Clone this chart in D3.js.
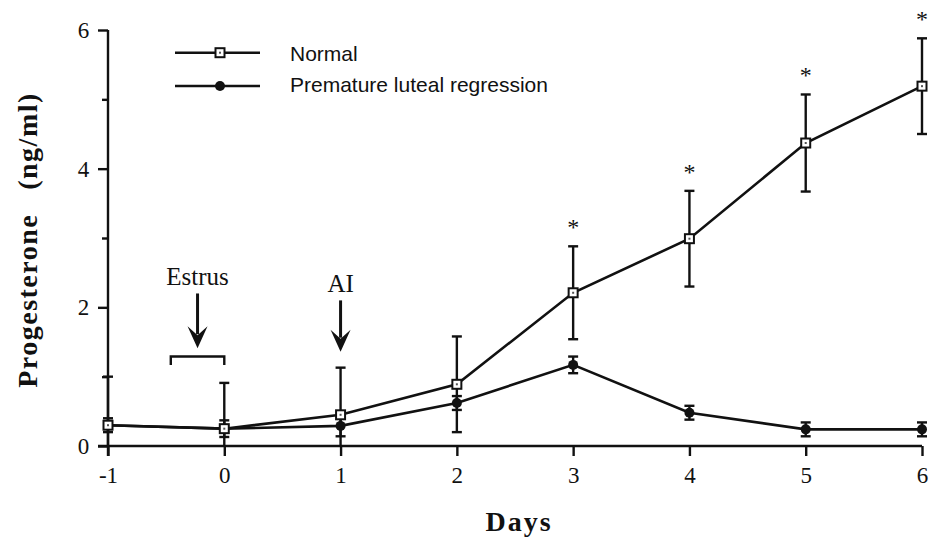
<!DOCTYPE html>
<html>
<head>
<meta charset="utf-8">
<script src="https://cdn.jsdelivr.net/npm/d3@7/dist/d3.min.js"></script>
<style>
  html, body { margin: 0; padding: 0; background: #ffffff; }
  svg { display: block; }
</style>
</head>
<body>
<svg id="chart" width="931" height="546"></svg>
<script>
// Plasma progesterone around estrus and insemination
const days = [-1, 0, 1, 2, 3, 4, 5, 6];
const normalMean = [0.30, 0.25, 0.45, 0.89, 2.21, 2.99, 4.37, 5.19];
const normalSem = [0.10, 0.66, 0.68, 0.69, 0.67, 0.69, 0.70, 0.69];
const prematureMean = [0.30, 0.25, 0.29, 0.62, 1.17, 0.48, 0.24, 0.24];
const prematureSem = [0.70, 0.12, 0.15, 0.10, 0.12, 0.10, 0.10, 0.10];
const significantDays = [3, 4, 5, 6];
const yMajorTicks = [0, 2, 4, 6];
const yMinorTicks = [1, 3, 5];
const xTicks = [-1, 0, 1, 2, 3, 4, 5, 6];
const seriesNames = ["Normal", "Premature luteal regression"];

const svg = d3.select("#chart");
const serif = "'Liberation Serif', 'Times New Roman', serif";
const sans = "'Liberation Sans', Arial, sans-serif";
const ink = "#111";

const x = d3.scaleLinear().domain([-1, 6]).range([108, 922]);
const y = d3.scaleLinear().domain([0, 6]).range([446, 30]);

// axes
const xAxis = svg.append("g")
  .attr("transform", `translate(0,${y(0)})`)
  .call(d3.axisBottom(x).tickValues(xTicks).tickSize(10).tickSizeOuter(0).tickFormat(d => String(d)));
xAxis.select(".domain").attr("d", `M${x(-1) - 10},0H${x(6)}`);

const yAxis = svg.append("g")
  .attr("transform", `translate(${x(-1)},0)`)
  .call(d3.axisLeft(y).tickValues(yMajorTicks).tickSize(10).tickSizeOuter(0).tickFormat(d => String(d)));
yAxis.select(".domain").attr("d", `M0,${y(6)}V${y(0) + 10}`);

const yMinor = svg.append("g")
  .attr("transform", `translate(${x(-1)},0)`)
  .call(d3.axisLeft(y).tickValues(yMinorTicks).tickSize(6).tickFormat(""));
yMinor.select(".domain").remove();

[xAxis, yAxis, yMinor].forEach(g => {
  g.selectAll(".domain, .tick line").attr("stroke", ink).attr("stroke-width", 2.4);
  g.selectAll(".tick text").attr("fill", ink).attr("font-family", serif).attr("font-size", 23);
});
xAxis.selectAll(".tick text").attr("dy", "1.05em");
yAxis.selectAll(".tick text").attr("dx", "-0.25em");

// axis titles
svg.append("text")
  .attr("x", 519).attr("y", 531)
  .attr("text-anchor", "middle")
  .attr("font-family", serif).attr("font-weight", "bold").attr("font-size", 28)
  .attr("letter-spacing", 2)
  .attr("fill", ink)
  .text("Days");

const yTitle = svg.append("text")
  .attr("transform", "translate(37,240) rotate(-90)")
  .attr("text-anchor", "middle")
  .attr("font-family", serif).attr("font-weight", "bold").attr("font-size", 28)
  .attr("letter-spacing", 1.5)
  .attr("fill", ink);
yTitle.append("tspan").text("Progesterone");
yTitle.append("tspan").attr("dx", 24).text("(ng/ml)");

// series
const normal = days.map((d, i) => ({ day: d, mean: normalMean[i], sem: normalSem[i] }));
const premature = days.map((d, i) => ({ day: d, mean: prematureMean[i], sem: prematureSem[i] }));

const line = d3.line().x(d => x(d.day)).y(d => y(d.mean));

function drawErrorBars(data) {
  const g = svg.append("g").attr("stroke", ink).attr("stroke-width", 2.4).attr("fill", "none");
  data.forEach(d => {
    const hi = d.mean + d.sem;
    const lo = Math.max(0, d.mean - d.sem);
    const cx = x(d.day);
    g.append("line").attr("x1", cx).attr("x2", cx).attr("y1", y(hi)).attr("y2", y(lo));
    g.append("line").attr("x1", cx - 5).attr("x2", cx + 5).attr("y1", y(hi)).attr("y2", y(hi));
    if (d.mean - d.sem > 0) {
      g.append("line").attr("x1", cx - 5).attr("x2", cx + 5).attr("y1", y(lo)).attr("y2", y(lo));
    }
  });
}

drawErrorBars(premature);
drawErrorBars(normal);

svg.append("path").datum(premature)
  .attr("d", line).attr("fill", "none").attr("stroke", ink).attr("stroke-width", 2.6);
svg.append("path").datum(normal)
  .attr("d", line).attr("fill", "none").attr("stroke", ink).attr("stroke-width", 2.6);

function circleMarker(g, cx, cy) {
  g.append("circle").attr("cx", cx).attr("cy", cy).attr("r", 5).attr("fill", ink);
}
function squareMarker(g, cx, cy) {
  g.append("rect").attr("x", cx - 4.5).attr("y", cy - 4.5).attr("width", 9).attr("height", 9)
    .attr("fill", "#fff").attr("stroke", ink).attr("stroke-width", 2);
  g.append("rect").attr("x", cx - 1).attr("y", cy - 1).attr("width", 2).attr("height", 2).attr("fill", "#555");
}

const markers = svg.append("g");
premature.forEach(d => circleMarker(markers, x(d.day), y(d.mean)));
normal.forEach(d => squareMarker(markers, x(d.day), y(d.mean)));

// significance marks
svg.append("g").selectAll("text")
  .data(normal.filter(d => significantDays.includes(d.day)))
  .join("text")
  .attr("x", d => x(d.day))
  .attr("y", d => y(d.mean + d.sem) - 11)
  .attr("text-anchor", "middle")
  .attr("font-family", serif).attr("font-size", 24).attr("fill", ink)
  .text("*");

// event annotations
function arrow(day, yTop, yTip) {
  const cx = x(day);
  svg.append("line").attr("x1", cx).attr("x2", cx).attr("y1", y(yTop)).attr("y2", y(yTip) - 14)
    .attr("stroke", ink).attr("stroke-width", 3);
  svg.append("path")
    .attr("d", `M${cx - 10},${y(yTip) - 22}L${cx},${y(yTip) - 13}L${cx + 10},${y(yTip) - 22}L${cx},${y(yTip)}Z`)
    .attr("fill", ink);
}

svg.append("text").attr("x", x(-0.23)).attr("y", y(2.32))
  .attr("text-anchor", "middle").attr("font-family", serif).attr("font-size", 25).attr("fill", ink)
  .text("Estrus");
arrow(-0.23, 2.2, 1.41);
svg.append("path")
  .attr("d", `M${x(-0.46)},${y(1.17)}V${y(1.29)}H${x(0)}V${y(1.17)}`)
  .attr("fill", "none").attr("stroke", ink).attr("stroke-width", 2.4);

svg.append("text").attr("x", x(1)).attr("y", y(2.22))
  .attr("text-anchor", "middle").attr("font-family", serif).attr("font-size", 25).attr("fill", ink)
  .text("AI");
arrow(1, 2.1, 1.36);

// legend
const legend = svg.append("g").attr("transform", "translate(175,0)");
[{ ly: 52.7, ty: 61 }, { ly: 86, ty: 92 }].forEach((row, i) => {
  legend.append("line").attr("x1", 0).attr("x2", 85).attr("y1", row.ly).attr("y2", row.ly)
    .attr("stroke", ink).attr("stroke-width", 2.4);
  if (i === 0) squareMarker(legend, 45, row.ly); else circleMarker(legend, 45, row.ly);
  legend.append("text").attr("x", 115).attr("y", row.ty)
    .attr("font-family", sans).attr("font-size", 21).attr("fill", ink)
    .text(seriesNames[i]);
});
</script>
</body>
</html>
